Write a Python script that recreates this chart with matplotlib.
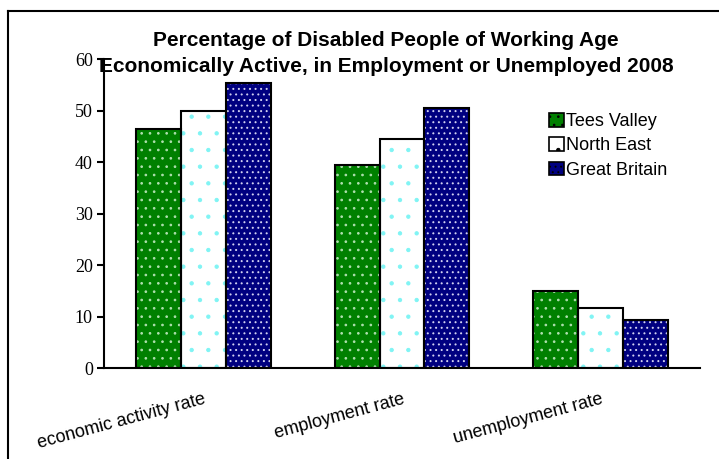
import matplotlib
matplotlib.use("Agg")
import matplotlib.pyplot as plt
import matplotlib.patches as mpatches
from matplotlib.lines import Line2D
import numpy as np

categories = ["economic activity rate", "employment rate", "unemployment rate"]
series_names = ["Tees Valley", "North East", "Great Britain"]
tees_valley = [46.5, 39.5, 15.1]
north_east = [50.0, 44.5, 11.8]
great_britain = [55.4, 50.5, 9.4]
yticks = [0, 10, 20, 30, 40, 50, 60]

face_colors = ["#008000", "#FFFFFF", "#000080"]
hatch_colors = ["#B0E0B0", "#80F4F4", "#D0D0F0"]
hatches = ["..", ".", "..."]

plt.rcParams['hatch.linewidth'] = 0.7

fig = plt.figure(figsize=(7.19, 4.59), dpi=100)
ax = fig.add_axes([104/719, 1 - 368.3/459, 596/719, 309/459])

x = np.arange(len(categories))
w = 0.226
all_series = [tees_valley, north_east, great_britain]
for i, vals in enumerate(all_series):
    pos = x + (i - 1) * w
    ax.bar(pos, vals, w, color=face_colors[i], edgecolor=hatch_colors[i],
           hatch=hatches[i], linewidth=0, zorder=2)
    ax.bar(pos, vals, w, fill=False, edgecolor="black", linewidth=1.5, zorder=3)

ax.set_xlim(-0.5, 2.5)
ax.set_ylim(0, 60)
ax.set_yticks(yticks)
ax.set_yticklabels([str(t) for t in yticks], family="Liberation Serif", fontsize=13)
ax.tick_params(axis='y', direction='out', length=5, width=1.5, pad=3)
ax.set_xticks(x)
ax.set_xticklabels(categories, rotation=15, ha='right', rotation_mode='anchor',
                   family="Liberation Sans", fontsize=13)
ax.tick_params(axis='x', length=0, pad=16)
for s in ["top", "right"]:
    ax.spines[s].set_visible(False)
ax.spines["left"].set_linewidth(1.5)
ax.spines["bottom"].set_linewidth(1.5)

fig.text(386/719, 1 - 40/459, "Percentage of Disabled People of Working Age",
         ha='center', va='center', fontsize=15, fontweight='bold', family="Liberation Sans")
fig.text(386/719, 1 - 67/459, "Economically Active, in Employment or Unemployed 2008",
         ha='center', va='center', fontsize=15, fontweight='bold', family="Liberation Sans")

# legend
handles = []
for i in range(3):
    handles.append(mpatches.Patch(facecolor=face_colors[i], edgecolor="black",
                                  hatch=hatches[i], linewidth=1.2, label=series_names[i]))
leg = ax.legend(handles=handles, loc='upper left', bbox_to_anchor=(0.735, 0.85),
                frameon=False, prop={'family': 'Liberation Sans', 'size': 13},
                handlelength=0.8, handleheight=0.8, handletextpad=0.15, labelspacing=0.4,
                borderaxespad=0)

# outer frame (left and top lines)
fig.add_artist(Line2D([8/719, 8/719], [0, 1 - 11/459], color='black', linewidth=1.5,
                      transform=fig.transFigure))
fig.add_artist(Line2D([8/719, 1], [1 - 11/459, 1 - 11/459], color='black', linewidth=1.5,
                      transform=fig.transFigure))

fig.savefig("out.png", dpi=100)
